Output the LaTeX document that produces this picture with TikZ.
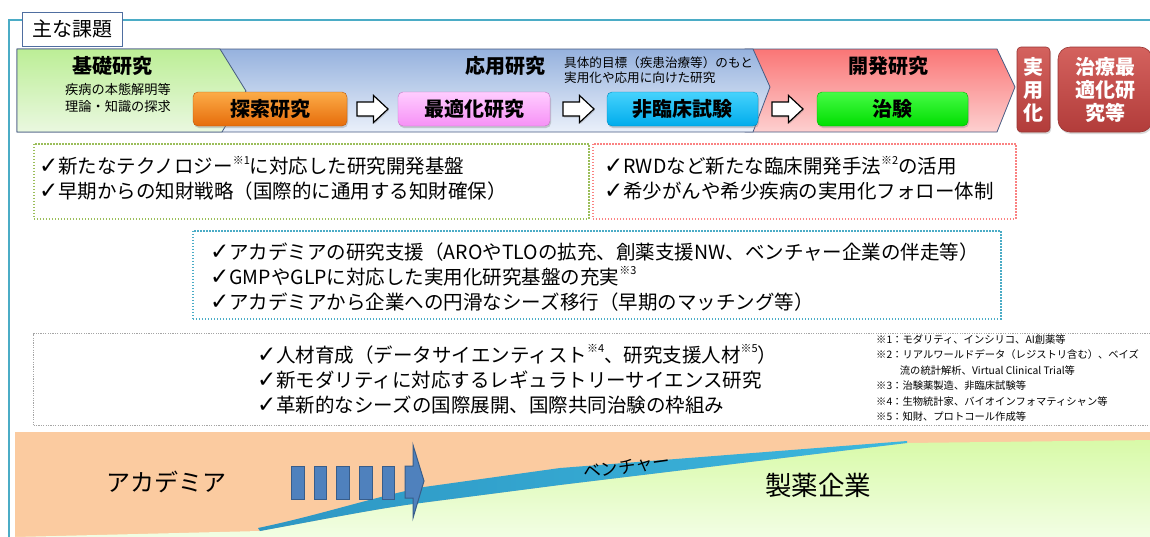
\documentclass[tikz,border=0pt]{standalone}
\usepackage{fontspec}
\setmainfont{Noto Sans CJK JP}
\newfontfamily\ckfont{DejaVu Sans}
\usetikzlibrary{shadows,calc}
\definecolor{frameblue}{RGB}{75,172,198}
\definecolor{titleborder}{RGB}{79,110,160}
\definecolor{bandline}{RGB}{70,90,130}
\definecolor{gtop}{RGB}{188,238,150}
\definecolor{gbot}{RGB}{234,248,224}
\definecolor{btop}{RGB}{150,178,222}
\definecolor{bbot}{RGB}{234,240,250}
\definecolor{ptop}{RGB}{250,118,118}
\definecolor{pbot}{RGB}{253,208,208}
\definecolor{orangeT}{RGB}{252,172,72}
\definecolor{orangeB}{RGB}{230,108,10}
\definecolor{magT}{RGB}{255,205,255}
\definecolor{magB}{RGB}{246,145,246}
\definecolor{cyanT}{RGB}{70,210,252}
\definecolor{cyanB}{RGB}{0,172,236}
\definecolor{grnT}{RGB}{70,252,70}
\definecolor{grnB}{RGB}{0,222,0}
\definecolor{redT}{RGB}{212,98,94}
\definecolor{redB}{RGB}{178,60,58}
\definecolor{redline}{RGB}{150,52,50}
\definecolor{dotgreen}{RGB}{155,190,90}
\definecolor{dotred}{RGB}{250,130,130}
\definecolor{dotblue}{RGB}{75,172,198}
\definecolor{dotgray}{RGB}{165,165,165}
\definecolor{peach}{RGB}{251,203,160}
\definecolor{limeT}{RGB}{216,250,168}
\definecolor{limeB}{RGB}{243,254,230}
\definecolor{stripeL}{RGB}{45,150,195}
\definecolor{stripe}{RGB}{60,184,222}
\definecolor{barfill}{RGB}{79,129,189}
\definecolor{barline}{RGB}{56,93,138}
\newcommand\ck{{\ckfont\fontsize{23}{23}\selectfont ✓}}
\newcommand\ssup[1]{\raisebox{0.5em}{\fontsize{11}{11}\selectfont #1}}
\tikzset{
  bandtitle/.style={font=\bfseries\fontsize{20}{24}\selectfont, inner sep=0},
  bandsub/.style={font=\fontsize{13.2}{18}\selectfont, align=left, inner sep=0, anchor=west},
  stagebox/.style={rounded corners=5pt, minimum height=34pt, inner sep=0,
    font=\bfseries\fontsize{20}{24}\selectfont,
    drop shadow={opacity=0.35, shadow xshift=1pt, shadow yshift=-2pt}},
  redbox/.style={draw=redline, line width=0.6pt, top color=redT, bottom color=redB,
    text=white, font=\bfseries\fontsize{20}{23}\selectfont, align=center, inner sep=0,
    drop shadow={opacity=0.3, shadow xshift=1pt, shadow yshift=-2pt}},
  blockarrow/.style={draw=black, line width=1.2pt, fill=white, line join=miter,
    drop shadow={opacity=0.3, shadow xshift=1pt, shadow yshift=-1.5pt}},
  dotbox/.style={dash pattern=on 1.5pt off 1.5pt, line width=1.5pt, inner sep=0, anchor=north west},
  bodytext/.style={font=\fontsize{19.5}{25}\selectfont, align=left, inner sep=0, anchor=west},
  bar/.style={draw=barline, fill=barfill, line width=1pt, minimum width=12.5pt, minimum height=33pt, inner sep=0},
}
\begin{document}
\begin{tikzpicture}[x=1pt,y=-1pt]
\useasboundingbox (0,0) rectangle (1150,536);
\clip (0,0) rectangle (1150,536);
% outer frame
\draw[frameblue, line width=2pt] (9,540) -- (9,20) -- (1155,20);
\node[draw=titleborder, line width=1pt, fill=white, minimum width=100pt, minimum height=34pt,
  inner sep=0, font=\fontsize{20}{24}\selectfont] (title) at (72.5,29) {主な課題};

% top band
\path[draw=bandline, line width=0.8pt, top color=ptop, bottom color=pbot]
  (745,49) -- (997,49) -- (1015,87) -- (997,132) -- (745,132) -- cycle;
\path[draw=bandline, line width=0.8pt, top color=btop, bottom color=bbot]
  (17,49) -- (753,49) -- (770,87) -- (753,132) -- (17,132) -- cycle;
\path[draw=bandline, line width=0.8pt, top color=gtop, bottom color=gbot]
  (17,49) -- (220,49) -- (246,91) -- (222,132) -- (17,132) -- cycle;

\node[bandtitle] (kiso) at (112,66) {基礎研究};
\node[bandsub] (kisosub) at (65,98) {疾病の本態解明等\\[-0.5pt]理論・知識の探求};
\node[bandtitle] (oyo) at (505,66) {応用研究};
\node[bandsub, font=\fontsize{12.6}{15.5}\selectfont] (oyosub) at (564,70) {具体的目標（疾患治療等）のもと\\実用化や応用に向けた研究};
\node[bandtitle] (kaihatsu) at (888,66) {開発研究};

\node[stagebox, draw=orangeB!80!black, top color=orangeT, bottom color=orangeB, minimum width=154pt] (s1) at (270,109) {探索研究};
\node[stagebox, draw=magB!80!black, top color=magT, bottom color=magB, minimum width=152pt] (s2) at (474,109) {最適化研究};
\node[stagebox, draw=cyanB!80!black, top color=cyanT, bottom color=cyanB, minimum width=151pt] (s3) at (682.5,109) {非臨床試験};
\node[stagebox, draw=grnB!80!black, top color=grnT, bottom color=grnB, minimum width=151pt] (s4) at (892.5,109) {治験};

\foreach \a/\b/\n in {s1/s2/a1, s2/s3/a2, s3/s4/a3}{
  \path (\a.east) -- (\b.west) coordinate[midway] (\n);
  \draw[blockarrow] ($(\n)+(-15.5,-7)$) -- ($(\n)+(1,-7)$) -- ($(\n)+(1,-13.5)$) -- ($(\n)+(15.5,0)$)
    -- ($(\n)+(1,13.5)$) -- ($(\n)+(1,7)$) -- ($(\n)+(-15.5,7)$) -- cycle;
}

\node[redbox, rounded corners=4pt, minimum width=33pt, minimum height=85pt] (jitsu) at (1033.5,89.5) {実\\用\\化};
\node[redbox, rounded corners=12pt, minimum width=94pt, minimum height=85pt] (chiryo) at (1105,89.5) {治療最\\適化研\\究等};

% dotted boxes
\node[dotbox, draw=dotgreen, minimum width=555pt, minimum height=75pt] (gbox) at (33,143) {};
\node[bodytext] (gtext) at ($(gbox.west)+(6,-3)$) {\ck 新たなテクノロジー\ssup{※1}に対応した研究開発基盤\\\ck 早期からの知財戦略（国際的に通用する知財確保）};

\node[dotbox, draw=dotred, minimum width=423pt, minimum height=75pt] (pbox) at (592,143) {};
\node[bodytext] (ptext) at ($(pbox.west)+(12,-3)$) {\ck RWDなど新たな臨床開発手法\ssup{※2}の活用\\\ck 希少がんや希少疾病の実用化フォロー体制};

\node[dotbox, draw=dotblue, minimum width=808pt, minimum height=88pt] (bbox) at (192,230) {};
\node[bodytext] (btext) at ($(bbox.west)+(18,2)$) {\ck アカデミアの研究支援（AROやTLOの拡充、創薬支援NW、ベンチャー企業の伴走等）\\\ck GMPやGLPに対応した実用化研究基盤の充実\ssup{※3}\\\ck アカデミアから企業への円滑なシーズ移行（早期のマッチング等）};

\node[dotbox, draw=dotgray, line width=1.2pt, dash pattern=on 1.2pt off 1.2pt, minimum width=1140pt, minimum height=92pt] (graybox) at (33,333) {};
\node[bodytext] (graytext) at ($(graybox.west)+(224,0)$) {\ck 人材育成（データサイエンティスト\ssup{※4}、研究支援人材\ssup{※5}）\\\ck 新モダリティに対応するレギュラトリーサイエンス研究\\\ck 革新的なシーズの国際展開、国際共同治験の枠組み};

\node[font=\fontsize{10.3}{15.4}\selectfont, align=left, inner sep=0, anchor=north west] (notes) at (876,334.5) {※1：モダリティ、インシリコ、AI創薬等\\※2：リアルワールドデータ（レジストリ含む）、ベイズ\\\hspace*{2.3em}流の統計解析、Virtual Clinical Trial等\\※3：治験薬製造、非臨床試験等\\※4：生物統計家、バイオインフォマティシャン等\\※5：知財、プロトコール作成等};

% bottom graphic
\fill[peach] (15,432) rectangle (1155,540);
\path[top color=limeT, bottom color=limeB]
  (15,540) -- (15,537) -- (260,531) .. controls (320,520) and (370,510) .. (413,504)
  -- (560,485) -- (907,443) -- (1155,440) -- (1155,540) -- cycle;
\path[left color=stripeL, right color=stripe] (260,531) .. controls (320,520) and (370,510) .. (413,504) -- (560,485) -- (907,443)
  -- (907,441) -- (560,468) -- (424,487) .. controls (370,498) and (320,515) .. (258,528) -- cycle;

\foreach \i in {0,...,4}{
  \node[bar] (bar\i) at (298+22.6*\i,482.5) {};
}
\coordinate (ahead) at (413,482);
\draw[draw=barline, fill=barfill, line width=1pt, line join=miter]
  ($(ahead)+(-8,-16)$) -- ($(ahead)+(0,-16)$) -- ($(ahead)+(0,-37)$) -- ($(ahead)+(11,-1)$)
  -- ($(ahead)+(0,36)$) -- ($(ahead)+(0,16)$) -- ($(ahead)+(-8,16)$) -- cycle;

\node[font=\fontsize{24}{24}\selectfont, inner sep=0] (academia) at (166,482) {アカデミア};
\node[font=\fontsize{17.5}{17.5}\selectfont, inner sep=0, rotate=8] (venture) at (627,467) {ベンチャー};
\node[font=\fontsize{26.5}{26.5}\selectfont, inner sep=0] (seiyaku) at (818,485) {製薬企業};
\end{tikzpicture}
\end{document}
